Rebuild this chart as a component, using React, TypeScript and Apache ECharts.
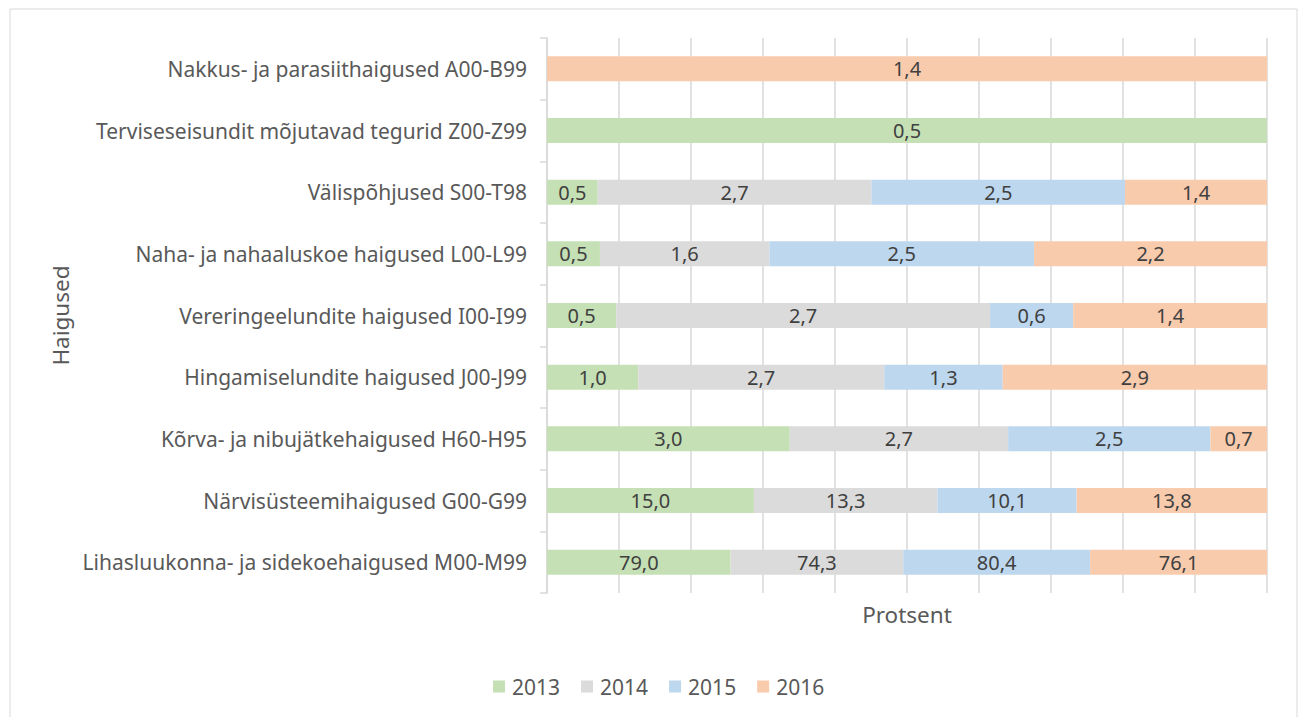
import React, { useEffect, useRef } from "react";
import * as echarts from "echarts";

const categories = [
  "Lihasluukonna- ja sidekoehaigused M00-M99",
  "Närvisüsteemihaigused G00-G99",
  "Kõrva- ja nibujätkehaigused H60-H95",
  "Hingamiselundite haigused J00-J99",
  "Vereringeelundite haigused I00-I99",
  "Naha- ja nahaaluskoe haigused L00-L99",
  "Välispõhjused S00-T98",
  "Terviseseisundit mõjutavad tegurid Z00-Z99",
  "Nakkus- ja parasiithaigused A00-B99",
];
const years = ["2013", "2014", "2015", "2016"];
const v2013 = [79.0, 15.0, 3.0, 1.0, 0.5, 0.5, 0.5, 0.5, 0];
const v2014 = [74.3, 13.3, 2.7, 2.7, 2.7, 1.6, 2.7, 0, 0];
const v2015 = [80.4, 10.1, 2.5, 1.3, 0.6, 2.5, 2.5, 0, 0];
const v2016 = [76.1, 13.8, 0.7, 2.9, 1.4, 2.2, 1.4, 0, 1.4];
const colors = ["#c5e0b4", "#dbdbdb", "#bdd7ee", "#f8cbad"];

const FONT = "'Noto Sans', sans-serif";

export default function App() {
  const ref = useRef<HTMLDivElement>(null);
  useEffect(() => {
    if (!ref.current) return;
    const chart = echarts.init(ref.current, undefined, { renderer: "svg" });
    const raw = [v2013, v2014, v2015, v2016];
    const sums = categories.map((_, i) => raw.reduce((s, arr) => s + arr[i], 0));
    const series = raw.map((arr, si) => ({
      name: years[si],
      type: "bar",
      stack: "total",
      barWidth: 25,
      itemStyle: { color: colors[si] },
      label: {
        show: true,
        position: "inside",
        color: "#404040",
        fontSize: 20,
        fontFamily: FONT,
        formatter: (p: any) => raw[si][p.dataIndex].toFixed(1).replace(".", ","),
      },
      data: arr.map((v, i) => (v > 0 ? (v / sums[i]) * 100 : "-")),
    }));
    chart.setOption({
      animation: false,
      textStyle: { fontFamily: FONT },
      grid: { left: 547, right: 34, top: 38, bottom: 124, containLabel: false },
      graphic: [
        {
          type: "rect",
          shape: { x: 10, y: 9, width: 1287, height: 720 },
          style: { fill: "none", stroke: "#d9d9d9", lineWidth: 1 },
          silent: true,
        },
      ],
      legend: {
        top: 676,
        left: 493,
        padding: 0,
        itemWidth: 12,
        itemHeight: 12,
        itemGap: 21,
        icon: "rect",
        textStyle: { color: "#595959", fontSize: 21, fontFamily: FONT, padding: [0, 0, 0, 2] },
        data: years,
      },
      xAxis: {
        type: "value",
        min: 0,
        max: 100,
        interval: 10,
        name: "Protsent",
        nameLocation: "middle",
        nameGap: 10,
        nameTextStyle: { color: "#595959", fontSize: 22.5, fontFamily: FONT },
        axisLabel: { show: false },
        axisLine: { show: false },
        axisTick: { show: false },
        splitLine: { show: true, lineStyle: { color: "#d9d9d9", width: 1.5 } },
      },
      yAxis: {
        type: "category",
        data: categories,
        name: "Haigused",
        nameLocation: "middle",
        nameRotate: 90,
        nameGap: 473,
        nameTextStyle: { color: "#595959", fontSize: 22.5, fontFamily: FONT },
        axisLine: { show: true, lineStyle: { color: "#d9d9d9", width: 1.5 } },
        axisTick: { show: true, length: 7, lineStyle: { color: "#d9d9d9", width: 1.5 } },
        axisLabel: { color: "#595959", fontSize: 21, fontFamily: FONT, margin: 20 },
      },
      series,
    });
    return () => chart.dispose();
  }, []);
  return (
    <div
      ref={ref}
      style={{ position: "fixed", left: 0, top: 0, width: 1301, height: 717, background: "#fff" }}
    />
  );
}
